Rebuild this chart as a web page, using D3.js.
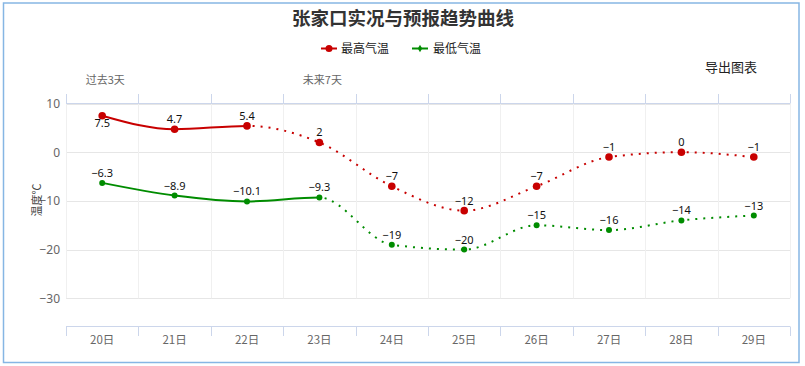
<!DOCTYPE html>
<html>
<head>
<meta charset="utf-8">
<script src="https://cdn.jsdelivr.net/npm/d3@7"></script>
<style>
  html, body { margin: 0; padding: 0; background: #fff; }
  svg { display: block; font-family: "Noto Sans CJK SC", "Noto Sans", sans-serif; }
</style>
</head>
<body>
<svg id="chart" width="805" height="366"></svg>
<script>
const titleText = "张家口实况与预报趋势曲线";
const categories = ["20日", "21日", "22日", "23日", "24日", "25日", "26日", "27日", "28日", "29日"];
const highTemps = [7.5, 4.7, 5.4, 2, -7, -12, -7, -1, 0, -1];
const lowTemps = [-6.3, -8.9, -10.1, -9.3, -19, -20, -15, -16, -14, -13];
const yTicks = [10, 0, -10, -20, -30];
const seriesNames = ["最高气温", "最低气温"];
const seriesColors = ["#c80000", "#008c00"];
const solidUntil = [2, 3]; // index of last observed point per series
const topLabels = [{ text: "过去3天", cat: "20日" }, { text: "未来7天", cat: "23日" }];
const yTitle = "温度℃";
const exportText = "导出图表";

const svg = d3.select("#chart");
const W = 805, H = 366;
const plot = { left: 66, right: 790, top: 103.5, bottom: 298.3 };
const bottomAxisY = 326.5;

// border
svg.append("rect").attr("x", 3.5).attr("y", 3).attr("width", 795.5).attr("height", 359.5)
  .attr("fill", "none").attr("stroke", "#86b6e4").attr("stroke-width", 1.5);

const x = d3.scaleBand().domain(categories).range([plot.left, plot.right]).paddingInner(0).paddingOuter(0);
const cx = c => x(c) + x.bandwidth() / 2;
const y = d3.scaleLinear().domain([-30, 10]).range([plot.bottom, plot.top]);

// title
svg.append("text").attr("x", 403).attr("y", 24.5).attr("text-anchor", "middle")
  .attr("font-size", 18.5).attr("font-weight", "bold").attr("fill", "#333").text(titleText);

// legend
const legendItems = [{ lx: 321, tx: 341 }, { lx: 412, tx: 433 }];
legendItems.forEach((it, i) => {
  const g = svg.append("g");
  g.append("line").attr("x1", it.lx).attr("x2", it.lx + 16).attr("y1", 48.5).attr("y2", 48.5)
    .attr("stroke", seriesColors[i]).attr("stroke-width", 2);
  if (i === 0) {
    g.append("circle").attr("cx", it.lx + 8).attr("cy", 48.5).attr("r", 3.5).attr("fill", seriesColors[i]);
  } else {
    g.append("path").attr("d", d3.symbol(d3.symbolDiamond, 16)()).attr("transform", `translate(${it.lx + 8},48.5)`).attr("fill", seriesColors[i]);
  }
  g.append("text").attr("x", it.tx).attr("y", 53).attr("font-size", 12).attr("fill", "#222").text(seriesNames[i]);
});

// export button text
svg.append("text").attr("x", 731).attr("y", 72).attr("text-anchor", "middle")
  .attr("font-size", 13).attr("fill", "#222").text(exportText);

// top labels
topLabels.forEach(t => {
  svg.append("text").attr("x", cx(t.cat) + 3).attr("y", 84).attr("text-anchor", "middle")
    .attr("font-size", 11).attr("fill", "#666").text(t.text);
});

// horizontal grid
const yGrid = svg.append("g");
yTicks.forEach(v => {
  yGrid.append("line").attr("x1", plot.left).attr("x2", plot.right)
    .attr("y1", Math.round(y(v)) + 0.5).attr("y2", Math.round(y(v)) + 0.5)
    .attr("stroke", "#e6e6e6").attr("stroke-width", 1);
});
// vertical grid
const bounds = categories.map(c => x(c)).concat([plot.right]);
bounds.forEach(bx => {
  svg.append("line").attr("x1", Math.round(bx) + 0.5).attr("x2", Math.round(bx) + 0.5)
    .attr("y1", plot.top).attr("y2", plot.bottom).attr("stroke", "#f0f0f0");
});

// top axis (opposite)
svg.append("line").attr("x1", plot.left).attr("x2", plot.right).attr("y1", 103.5).attr("y2", 103.5).attr("stroke", "#ccd6eb");
bounds.forEach(bx => {
  svg.append("line").attr("x1", Math.round(bx) + 0.5).attr("x2", Math.round(bx) + 0.5)
    .attr("y1", 94).attr("y2", 103.5).attr("stroke", "#ccd6eb");
});

// bottom axis
const xAxis = d3.axisBottom(x).tickSize(0).tickPadding(9);
const gx = svg.append("g").attr("transform", `translate(0,${bottomAxisY})`).call(xAxis);
gx.select(".domain").remove();
gx.selectAll("text").attr("font-size", 11.5).attr("fill", "#666").attr("font-family", "\"Noto Sans CJK SC\", sans-serif");
svg.append("line").attr("x1", plot.left).attr("x2", plot.right).attr("y1", bottomAxisY).attr("y2", bottomAxisY).attr("stroke", "#ccd6eb");
bounds.forEach(bx => {
  svg.append("line").attr("x1", Math.round(bx) + 0.5).attr("x2", Math.round(bx) + 0.5)
    .attr("y1", bottomAxisY).attr("y2", bottomAxisY + 9.5).attr("stroke", "#ccd6eb");
});

// y axis labels
const yAxis = d3.axisLeft(y).tickValues(yTicks).tickSize(0).tickPadding(6).tickFormat(d3.format("d"));
const gy = svg.append("g").attr("transform", `translate(${plot.left},0)`).call(yAxis);
gy.select(".domain").remove();
gy.selectAll("text").attr("font-size", 12).attr("fill", "#666").attr("font-family", "\"Noto Sans\", sans-serif");

// y title
svg.append("text").attr("transform", `translate(41,200) rotate(-90)`).attr("text-anchor", "middle")
  .attr("font-size", 11).attr("fill", "#444").text(yTitle);

// clip paths
const defs = svg.append("defs");
[0, 1].forEach(i => {
  const splitX = cx(categories[solidUntil[i]]);
  defs.append("clipPath").attr("id", "solid" + i).append("rect")
    .attr("x", 0).attr("y", 0).attr("width", splitX).attr("height", H);
  defs.append("clipPath").attr("id", "dot" + i).append("rect")
    .attr("x", splitX).attr("y", 0).attr("width", W - splitX).attr("height", H);
});

const line = d3.line().x((d, i) => cx(categories[i])).y(d => y(d)).curve(d3.curveMonotoneX);
const fmt = d3.format("");

[highTemps, lowTemps].forEach((vals, si) => {
  const color = seriesColors[si];
  const g = svg.append("g");
  g.append("path").attr("d", line(vals)).attr("fill", "none").attr("stroke", color)
    .attr("stroke-width", 2).attr("clip-path", `url(#solid${si})`);
  g.append("path").attr("d", line(vals)).attr("fill", "none").attr("stroke", color)
    .attr("stroke-width", 2).attr("stroke-dasharray", "2,6").attr("clip-path", `url(#dot${si})`);
  vals.forEach((v, i) => {
    const px = cx(categories[i]), py = y(v);
    if (si === 0) {
      g.append("circle").attr("cx", px).attr("cy", py).attr("r", 3.8).attr("fill", color);
    } else {
      g.append("circle").attr("cx", px).attr("cy", py).attr("r", 3).attr("fill", color);
    }
    let ly = py - 6;
    if (ly - 12 < plot.top) ly = plot.top + 23;
    g.append("text").attr("x", px).attr("y", ly).attr("text-anchor", "middle")
      .attr("font-size", 11).attr("fill", "#111").attr("font-family", "\"Noto Sans\", sans-serif")
      .text(fmt(v).replace("-", "\u2212"));
  });
});
</script>
</body>
</html>
